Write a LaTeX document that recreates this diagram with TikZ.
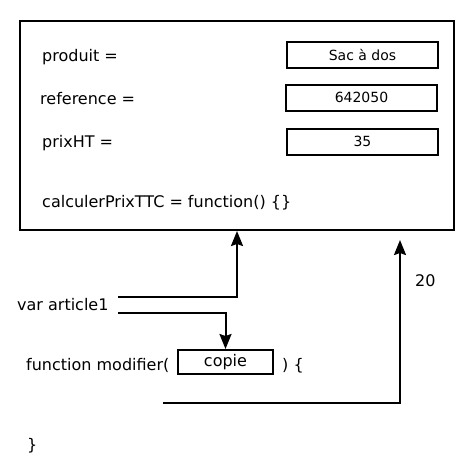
\documentclass[tikz,border=0pt]{standalone}
\usepackage{fontspec}
\setmainfont{DejaVu Sans}
\usetikzlibrary{arrows.meta}
\begin{document}
\begin{tikzpicture}[x=1pt,y=-1pt,
  lbl/.style={inner sep=0pt,anchor=base west,font=\fontsize{16}{18}\selectfont},
  valbox/.style={draw,line width=2pt,minimum width=151pt,minimum height=26pt,inner sep=0pt,font=\fontsize{14}{16}\selectfont},
  arr/.style={line width=2pt,-{Stealth[length=15pt,width=12pt,inset=2pt]}}]
\useasboundingbox (0,0) rectangle (475,467);
\node[draw,line width=2pt,minimum width=434pt,minimum height=209pt,inner sep=0pt] (obj) at (237,125.5) {};
\node[lbl] (produit) at (42,61) {produit =};
\node[lbl] (reference) at (40,104) {reference =};
\node[lbl] (prixht) at (42,147.5) {prixHT =};
\node[lbl] (calc) at (42,207) {calculerPrixTTC = function() \{\}};
\node[valbox] (v1) at (362.5,55) {Sac à dos};
\node[valbox] (v2) at (361.5,97.5) {642050};
\node[valbox] (v3) at (362.5,141.5) {35};
\node[lbl] (var) at (17,310.5) {var article1};
\node[lbl] (func) at (26,370) {function modifier(};
\node[draw,line width=2pt,minimum width=95pt,minimum height=24pt,inner sep=0pt,font=\fontsize{16}{18}\selectfont] (copie) at (225.5,362) {copie};
\node[lbl] (close) at (282,370) {) \{};
\node[lbl] (twenty) at (415,286.5) {20};
\node[lbl] (brace) at (27,450) {\}};
\coordinate (s1) at (118,297);
\coordinate (s2) at (118,313);
\coordinate (s3) at (163,403);
\coordinate (e3) at (400,240);
\draw[arr] (s1) -| (obj.south);
\draw[arr] (s2) -| (copie.north);
\draw[arr] (s3) -| (e3);
\end{tikzpicture}
\end{document}
